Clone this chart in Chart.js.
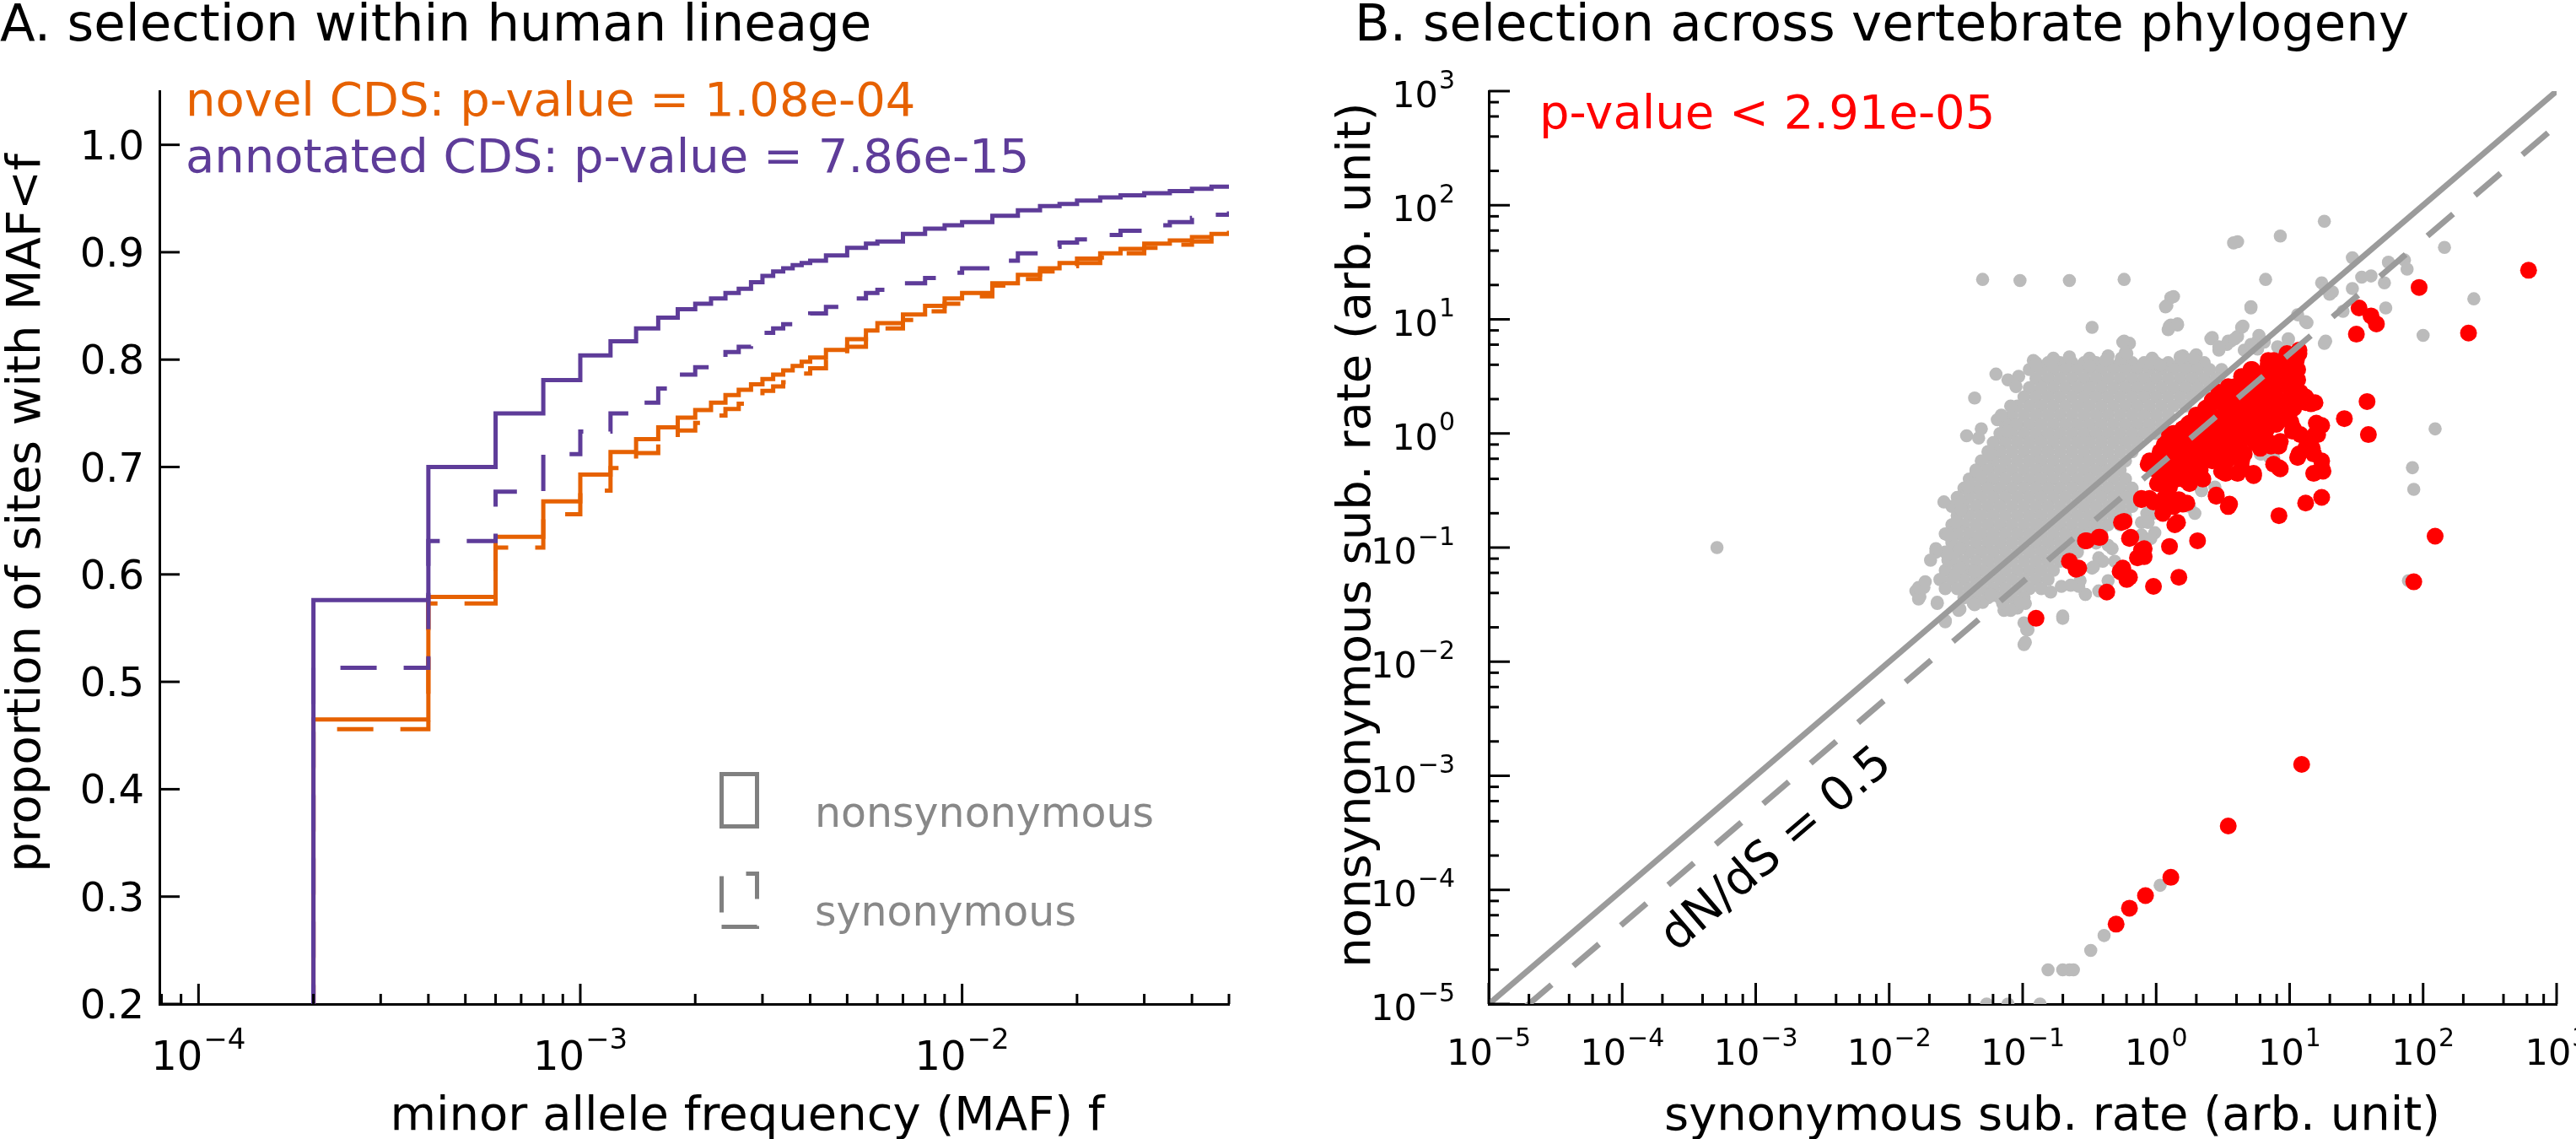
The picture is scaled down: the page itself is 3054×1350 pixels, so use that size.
<!DOCTYPE html>
<html>
<head>
<meta charset="utf-8">
<script src="https://cdn.jsdelivr.net/npm/chart.js"></script>
<style>
html,body{margin:0;padding:0;background:#fff;}
#wrap{position:relative;width:3054px;height:1350px;overflow:hidden;background:#fff;}
canvas{position:absolute;top:0;}
#cL{left:0;}
#cR{left:1527px;}
</style>
</head>
<body>
<div id="wrap"><canvas id="cL" width="1527" height="1350"></canvas><canvas id="cR" width="1527" height="1350"></canvas></div>
<script>
// ---------------- DATA: panel A (cumulative MAF distributions) ----------------
const mafBins = [0.0002,0.0004,0.0006,0.0008,0.001,0.0012,0.0014,0.0016,0.0018,0.002,
  0.0022,0.0024,0.0026,0.0028,0.003,0.0032,0.0034,0.0036,0.0038,0.004,
  0.0044,0.005,0.0056,0.006,0.007,0.008,0.009,0.01,0.012,0.014,
  0.016,0.018,0.02,0.023,0.026,0.03,0.035,0.04,0.045,0.05];
const annotatedNonsyn = [0.576,0.700,0.750,0.781,0.804,0.817,0.829,0.839,0.847,0.852,
  0.857,0.862,0.866,0.872,0.878,0.882,0.885,0.888,0.890,0.892,
  0.897,0.904,0.908,0.910,0.917,0.922,0.925,0.928,0.934,0.939,
  0.943,0.945,0.948,0.951,0.953,0.955,0.957,0.959,0.961,0.963];
const annotatedSyn = [0.513,0.631,0.677,0.712,0.733,0.750,0.760,0.773,0.786,0.793,
  0.800,0.807,0.812,0.818,0.825,0.829,0.833,0.836,0.840,0.843,
  0.849,0.857,0.862,0.865,0.871,0.876,0.881,0.885,0.892,0.899,
  0.905,0.909,0.912,0.916,0.920,0.925,0.928,0.932,0.935,0.938];
const novelNonsyn = [0.465,0.579,0.635,0.668,0.693,0.714,0.726,0.737,0.746,0.753,
  0.760,0.767,0.772,0.777,0.782,0.786,0.790,0.794,0.798,0.802,
  0.809,0.819,0.827,0.834,0.842,0.850,0.857,0.862,0.871,0.879,
  0.885,0.890,0.894,0.899,0.903,0.908,0.911,0.914,0.917,0.920];
const novelSyn = [0.456,0.573,0.625,0.656,0.678,0.699,0.713,0.724,0.734,0.741,
  0.748,0.754,0.759,0.765,0.771,0.775,0.779,0.783,0.787,0.792,
  0.800,0.812,0.821,0.829,0.837,0.845,0.852,0.859,0.869,0.875,
  0.882,0.887,0.890,0.895,0.899,0.904,0.907,0.910,0.914,0.917];
const fracTicks = [0.2,0.3,0.4,0.5,0.6,0.7,0.8,0.9,1.0];
const fracTickLabels = ['0.2','0.3','0.4','0.5','0.6','0.7','0.8','0.9','1.0'];
const mafTickExps = [-4,-3,-2];
const legendLabels = ['nonsynonymous','synonymous'];

// ---------------- DATA: panel B (log10 substitution rates) ----------------
// dense grey cloud, read row by row (log10 dN per row, log10 dS per point)
const cloudRowLogDN = [0.62,0.56,0.48,0.40,0.32,0.24,0.16,0.08,0.00,-0.08,-0.16,-0.24,-0.32,-0.40,-0.48,-0.56,-0.64,-0.72,-0.80,-0.88,-0.96,-1.04,-1.12,-1.20,-1.28,-1.36,-1.44];
const cloudRowLogDS = [
 [-0.90,-0.81,-0.72,-0.63,-0.54,-0.45,-0.36,-0.27,-0.18,-0.09,0.00,0.09,0.18,0.27,0.36],
 [-0.95,-0.86,-0.77,-0.68,-0.59,-0.50,-0.41,-0.32,-0.23,-0.14,-0.05,0.04,0.13,0.22,0.31,0.40,0.49],
 [-0.90,-0.81,-0.72,-0.63,-0.54,-0.45,-0.36,-0.27,-0.18,-0.09,0.00,0.09,0.18,0.27,0.36,0.45],
 [-0.95,-0.86,-0.77,-0.68,-0.59,-0.50,-0.41,-0.32,-0.23,-0.14,-0.05,0.04,0.13,0.22,0.31,0.40],
 [-0.99,-0.90,-0.81,-0.72,-0.63,-0.54,-0.45,-0.36,-0.27,-0.18,-0.09,0.00,0.09,0.18,0.27],
 [-1.04,-0.95,-0.86,-0.77,-0.68,-0.59,-0.50,-0.41,-0.32,-0.23,-0.14,-0.05,0.04,0.13,0.22],
 [-1.08,-0.99,-0.90,-0.81,-0.72,-0.63,-0.54,-0.45,-0.36,-0.27,-0.18,-0.09,0.00,0.09],
 [-1.13,-1.04,-0.95,-0.86,-0.77,-0.68,-0.59,-0.50,-0.41,-0.32,-0.23,-0.14,-0.05,0.04],
 [-1.17,-1.08,-0.99,-0.90,-0.81,-0.72,-0.63,-0.54,-0.45,-0.36,-0.27,-0.18,-0.09,0.00],
 [-1.22,-1.13,-1.04,-0.95,-0.86,-0.77,-0.68,-0.59,-0.50,-0.41,-0.32,-0.23,-0.14],
 [-1.26,-1.17,-1.08,-0.99,-0.90,-0.81,-0.72,-0.63,-0.54,-0.45,-0.36,-0.27,-0.18],
 [-1.31,-1.22,-1.13,-1.04,-0.95,-0.86,-0.77,-0.68,-0.59,-0.50,-0.41,-0.32,-0.23],
 [-1.35,-1.26,-1.17,-1.08,-0.99,-0.90,-0.81,-0.72,-0.63,-0.54,-0.45,-0.36,-0.27],
 [-1.40,-1.31,-1.22,-1.13,-1.04,-0.95,-0.86,-0.77,-0.68,-0.59,-0.50,-0.41,-0.32,-0.23],
 [-1.44,-1.35,-1.26,-1.17,-1.08,-0.99,-0.90,-0.81,-0.72,-0.63,-0.54,-0.45,-0.36,-0.27,-0.18],
 [-1.49,-1.40,-1.31,-1.22,-1.13,-1.04,-0.95,-0.86,-0.77,-0.68,-0.59,-0.50,-0.41,-0.32,-0.23,-0.14],
 [-1.53,-1.44,-1.35,-1.26,-1.17,-1.08,-0.99,-0.90,-0.81,-0.72,-0.63,-0.54,-0.45,-0.36,-0.27,-0.18],
 [-1.49,-1.40,-1.31,-1.22,-1.13,-1.04,-0.95,-0.86,-0.77,-0.68,-0.59,-0.50,-0.41,-0.32,-0.23],
 [-1.53,-1.44,-1.35,-1.26,-1.17,-1.08,-0.99,-0.90,-0.81,-0.72,-0.63,-0.54,-0.45,-0.36,-0.27],
 [-1.58,-1.49,-1.40,-1.31,-1.22,-1.13,-1.04,-0.95,-0.86,-0.77,-0.68,-0.59,-0.50,-0.41],
 [-1.53,-1.44,-1.35,-1.26,-1.17,-1.08,-0.99,-0.90,-0.81,-0.72,-0.63,-0.54,-0.45],
 [-1.58,-1.49,-1.40,-1.31,-1.22,-1.13,-1.04,-0.95,-0.86,-0.77,-0.68,-0.59],
 [-1.53,-1.44,-1.35,-1.26,-1.17,-1.08,-0.99,-0.90,-0.81,-0.72,-0.63],
 [-1.58,-1.49,-1.40,-1.31,-1.22,-1.13,-1.04,-0.95,-0.86,-0.77],
 [-1.62,-1.53,-1.44,-1.35,-1.26,-1.17,-1.08,-0.99,-0.90,-0.81],
 [-1.58,-1.49,-1.40,-1.31,-1.22,-1.13,-1.04,-0.95,-0.86],
 [-1.44,-1.35,-1.26,-1.17,-1.08,-0.99]
];
// scattered grey points [log10 dS, log10 dN]
const grayScatterLog = [
 [-1.30,1.35],[-1.02,1.34],[-0.65,1.34],[-0.24,1.35],[0.82,1.35],
 [0.13,1.20],[0.08,1.12],[0.71,1.11],[-0.48,0.93],[0.10,0.94],[0.16,0.96],[0.65,0.94],
 [1.24,1.32],[1.30,1.22],[1.12,0.98],[1.27,0.81],[0.99,0.83],
 [0.42,0.84],[0.54,0.81],[0.61,0.85],[-0.24,0.81],[-0.20,0.79],[-0.23,0.71],[0.76,0.81],
 [-1.20,0.52],[-1.36,0.31],[-1.42,-0.02],[-1.33,-0.04],[-1.35,-0.33],[-1.19,0.12],[-1.05,0.08],[-1.11,0.02],[-1.24,-0.18],
 [-1.59,-0.60],[-1.46,-0.60],[-1.65,-1.01],[-1.56,-1.11],[-1.80,-1.38],[-1.74,-1.35],[-1.78,-1.45],[-1.64,-1.49],[-1.58,-1.65],
 [-1.48,-1.55],[-1.37,-1.49],[-1.30,-1.48],[-1.22,-1.42],[-1.14,-1.55],[-1.04,-1.49],[-0.98,-1.49],[-0.97,-1.72],[-0.99,-1.85],
 [-0.70,-1.62],[-0.53,-1.41],[-0.43,-1.38],[-0.43,-1.09],[-0.31,-1.12],[-0.36,-0.98],[-0.11,-0.78],[-0.01,-0.87],[-0.07,-0.70],
 [0.34,-0.50],[0.44,-0.47],[0.78,-0.18],[0.85,-0.21],
 [-0.77,0.66],[-0.65,0.67],[-0.50,0.66],[-0.36,0.68],[-0.26,0.66],[-0.03,0.66],[0.20,0.68],[0.30,0.69],[0.47,0.73],[0.56,0.81],[0.66,0.73],[0.77,0.86],[0.71,0.76],
 [-1.03,0.50],[-1.11,0.47],[-1.05,0.41],[-0.92,0.64],[-0.90,0.60],[-1.31,0.04],[-1.16,0.16],[-1.09,0.24],
 [-1.65,-1.04],[-1.56,-0.89],[-1.50,-0.78],[-1.46,-0.67],[-1.41,-0.47],
 [1.26,1.86],[0.93,1.73],[0.58,1.67],[0.61,1.68],[0.11,1.19],[0.07,1.11],[0.71,1.10],[0.11,0.95],[0.16,0.95],[0.09,0.91],[0.64,0.93],
 [1.47,1.54],[1.74,1.50],[1.86,1.52],[1.88,1.44],[2.16,1.63],[1.54,1.37],[1.61,1.38],[1.71,1.32],[1.72,1.10],[1.40,1.07],[1.47,1.27],
 [1.32,1.24],[1.27,1.27],[1.13,0.97],[1.26,0.79],[0.99,0.82],[1.06,1.04],[2.38,1.18],[2.00,0.86],[2.09,0.04],[1.92,-0.30],[1.93,-0.49],
 [0.41,0.83],[0.53,0.78],[0.59,0.83],[-0.25,0.80],[-0.22,0.70],[-0.38,0.64],[-0.48,0.63],[-0.50,0.59],[-0.04,0.61],[0.03,0.60],
 [0.18,0.67],[0.28,0.66],[0.47,0.76],[0.81,0.80],[0.91,0.76],[0.76,0.74],[0.71,0.78],[0.93,0.73],[1.03,0.70],
 [0.88,-0.21],[0.79,-0.18],[0.34,-0.50],[0.25,-0.64],[0.29,-0.70],[-0.02,-0.70],[-0.06,-0.78],[-0.11,-0.89],[-0.04,-0.92],
 [-0.33,-1.01],[-0.40,-1.12],[-0.48,-1.18],[-0.57,-1.29],[-0.36,-1.29],[0.98,0.22],
 [-3.29,-1.00],
 [0.03,-3.96],[-0.39,-4.40],[-0.49,-4.53],[-0.81,-4.70],[-0.70,-4.70],[-0.65,-4.70],[-0.62,-4.70],[-1.27,-5.00],[-1.11,-5.00],[-0.87,-5.00],
 [-0.70,-1.60],[-0.98,-1.83],[-0.96,-1.72],[-0.99,-1.66],[-1.04,-1.53],[-1.02,-1.49],[-1.24,-1.41],[-1.36,-1.50],[-1.47,-1.54],
 [-1.58,-1.64],[-1.64,-1.48],[-1.77,-1.43],[-1.78,-1.35],[-1.73,-1.30],[-1.15,-1.49],[-1.09,-1.55],[-0.53,-1.41],[-0.58,-1.34],
 [-0.79,-1.39],[-0.71,-1.34],[-0.64,-1.33],[-0.47,-1.17],[-1.69,-1.11],[-1.56,-1.06],[-1.47,-1.01],[-1.51,-1.25],[-1.36,-1.21],[-1.47,-1.18],
 [1.89,-1.29]
];
// dense red core, read row by row (log10 dN per row, log10 dS per point)
const redRowLogDN = [0.64,0.56,0.48,0.40,0.32,0.24,0.16,0.08,0.00,-0.08,-0.16,-0.24,-0.32,-0.40];
const redRowLogDS = [
 [0.88,0.99],
 [0.72,0.83,0.94,1.05],
 [0.66,0.77,0.88,0.99],
 [0.56,0.67,0.78,0.89,1.00],
 [0.46,0.57,0.68,0.79,0.90,1.01,1.12],
 [0.40,0.51,0.62,0.73,0.84,0.95],
 [0.30,0.41,0.52,0.63,0.74,0.85,0.96],
 [0.24,0.35,0.46,0.57,0.68,0.79,0.90],
 [0.14,0.25,0.36,0.47,0.58,0.69,0.80],
 [0.08,0.19,0.30,0.41,0.52,0.63,0.74,0.85],
 [0.03,0.14,0.25,0.36,0.47,0.58],
 [-0.02,0.09,0.20,0.31,0.42,0.53,0.64],
 [0.00,0.11,0.22,0.33],
 [0.04,0.15,0.26]
];
// individual red points [log10 dS, log10 dN]
const redLog = [
 [2.79,1.43],[1.97,1.28],[1.52,1.10],[1.61,1.03],[1.65,0.96],[1.50,0.87],[2.34,0.88],[1.58,0.28],[1.41,0.13],[1.59,-0.01],[2.09,-0.90],[1.93,-1.30],
 [0.92,-0.72],[1.12,-0.61],[1.24,-0.56],[1.24,-0.24],[1.24,-0.30],[1.20,0.09],[1.24,0.07],[1.21,-0.01],[1.06,-0.21],[0.92,-0.30],[0.92,-0.11],
 [0.86,-0.11],[0.79,-0.07],[1.08,-0.01],[1.13,-0.06],[1.01,0.10],[1.03,0.04],[1.16,0.26],[1.10,0.29],[1.01,0.30],[1.03,0.39],[1.08,0.36],
 [1.06,0.56],[1.06,0.47],[1.07,0.70],[1.01,0.67],[0.95,0.64],[0.88,0.59],[0.84,0.61],[0.70,0.53],[0.65,0.49],[0.59,0.41],[0.54,0.37],
 [0.47,0.36],[0.42,0.29],[0.37,0.22],[0.33,0.16],[0.25,0.09],[0.20,0.04],[0.13,0.00],[0.11,-0.04],[0.06,-0.10],[-0.06,-0.27],[0.03,-0.35],
 [0.01,-0.44],[0.08,-0.50],[0.06,-0.57],[-0.11,-0.58],[-0.02,-0.60],[0.13,-0.64],[0.20,-0.62],[0.14,-0.80],[0.45,-0.55],[0.54,-0.64],
 [0.31,-0.94],[0.10,-0.99],[-0.26,-0.78],[-0.20,-0.92],[-0.11,-1.04],[-0.14,-1.09],[-0.43,-0.91],[-0.53,-0.94],[-0.60,-1.19],[-0.27,-1.21],
 [-0.22,-1.28],[-0.02,-1.34],[0.17,-1.26],[-0.37,-1.39],[0.25,-0.44],[0.35,-0.40],[0.52,-0.35],[0.64,-0.30],[0.73,-0.35],[0.52,-0.24],
 [0.59,-0.18],[0.41,-0.21],[0.33,-0.24],[0.25,-0.28],[0.42,-0.07],[0.50,-0.01],[0.59,0.02],[0.67,0.07],[0.35,0.10],[0.45,0.13],[0.54,0.19],
 [0.64,0.22],[0.74,0.24],[0.57,0.33],[0.69,0.36],[0.79,0.39],[0.88,0.44],[0.81,0.22],[0.84,0.10],[0.69,0.07],[0.79,0.04],[0.93,0.24],
 [0.98,0.19],[0.25,-0.10],[0.18,-0.16],[0.11,-0.21],[-0.02,-0.27],[0.06,-0.33],[0.84,0.50],[0.93,0.50],[0.98,0.44],[1.03,0.22],[1.13,-0.13],
 [1.18,-0.18],[1.18,-0.35],[1.25,-0.33],
 [-0.90,-1.62],[-0.65,-1.12],[-0.58,-1.18],[-0.52,-0.94],[-0.42,-0.91],[-0.24,-0.77],[-0.19,-0.91],[-0.11,-1.02],[-0.09,-1.08],[-0.25,-1.18],
 [-0.20,-1.26],[0.16,-0.78],[0.05,-0.70],[-0.05,-0.57],[0.23,-0.61],[0.17,-0.58],[-0.11,-0.57],[0.03,-0.61],[0.45,-0.54],[0.55,-0.62],
 [0.10,-0.47],[0.05,-0.38],[0.02,-0.43],[0.00,-0.30],[-0.03,-0.25],[0.13,-0.21],[0.22,-0.41],[0.30,-0.38],[0.49,-0.33],[0.61,-0.35],
 [0.73,-0.37],[0.88,-0.27],[0.93,-0.31],[1.07,-0.18],[1.17,-0.13],[1.22,0.07],[1.19,-0.01],[1.12,0.27],[1.19,0.27],[1.07,0.36],[1.05,0.64],
 [1.07,0.73],[0.98,0.70],[0.84,0.64],[0.93,0.50],[0.71,0.56],[0.64,0.50],[0.54,0.41],[0.49,0.33],[0.42,0.27],[0.68,0.36],[0.78,0.27],
 [0.88,0.33],[1.00,0.24],[0.98,0.16],[0.30,0.10],[0.20,0.04],[0.10,-0.01],[0.42,0.04],[0.54,0.13],[0.64,0.19],[0.78,0.16],[0.83,0.04],
 [0.73,-0.01],[0.54,-0.07],[0.42,-0.13],[0.30,-0.18],[0.66,-0.18],[0.78,-0.13],[0.93,-0.07],[0.17,-0.13],[0.05,-0.16],[-0.05,-0.24],
 [0.25,-0.07],[0.34,-0.01],[1.02,0.02],[1.12,-0.13],
 [1.09,-2.90],[0.54,-3.44],[0.11,-3.89],[-0.08,-4.05],[-0.20,-4.16],[-0.30,-4.30],[-0.09,-1.01],[-0.11,-1.06]
];
const neutralLine = [[1e-5,1e-5],[1e3,1e3]];     // dN/dS = 1
const halfLine = [[1e-5,5e-6],[1e3,500]];        // dN/dS = 0.5
const rateTickExps = [-5,-4,-3,-2,-1,0,1,2,3];

// ---------------- TEXT ----------------
const panelTitles = ['A. selection within human lineage','B. selection across vertebrate phylogeny'];
const novelNote = 'novel CDS: p-value = 1.08e-04';
const annotNote = 'annotated CDS: p-value = 7.86e-15';
const pNote = 'p-value < 2.91e-05';
const ratioNote = 'dN/dS = 0.5';
const yTitleL = 'proportion of sites with MAF<f';
const xTitleL = 'minor allele frequency (MAF) f';
const yTitleR = 'nonsynonymous sub. rate (arb. unit)';
const xTitleR = 'synonymous sub. rate (arb. unit)';

// ---------------- STYLE ----------------
const FONT = '"DejaVu Sans", "Noto Sans", sans-serif';
const PURPLE = '#5e3c99', ORANGE = '#e66101';

function seg(ctx, x1, y1, x2, y2) { ctx.beginPath(); ctx.moveTo(x1, y1); ctx.lineTo(x2, y2); ctx.stroke(); }
function txt(ctx, s, x, y, size, color, align, rot, base) {
  ctx.save(); ctx.translate(x, y); if (rot) ctx.rotate(rot);
  ctx.font = size + 'px ' + FONT; ctx.fillStyle = color; ctx.textAlign = align || 'left';
  ctx.textBaseline = base || 'alphabetic'; ctx.fillText(s, 0, 0); ctx.restore();
}
function powLabel(ctx, exp, cx, baseline, size, align) {
  const b = '10', e = exp < 0 ? '\u2212' + (-exp) : String(exp);
  const es = Math.round(size * 0.7);
  ctx.textAlign = 'left'; ctx.textBaseline = 'alphabetic'; ctx.fillStyle = '#000';
  ctx.font = size + 'px ' + FONT; const wb = ctx.measureText(b).width;
  ctx.font = es + 'px ' + FONT; const we = ctx.measureText(e).width;
  const w = wb + we + 1;
  const x0 = align === 'right' ? cx - w : cx - w / 2;
  ctx.font = size + 'px ' + FONT; ctx.fillText(b, x0, baseline);
  ctx.font = es + 'px ' + FONT; ctx.fillText(e, x0 + wb + 1, baseline - size * 0.52);
}

// ---------------- PANEL A ----------------
function stepSeries(values, color, dash, dashOff, order) {
  const pts = [{x: mafBins[0], y: 0}].concat(mafBins.map((m, i) => ({x: m, y: values[i]})));
  return { data: pts, borderColor: color, borderWidth: 5, borderDash: dash, borderDashOffset: dashOff,
    stepped: 'before', pointRadius: 0, fill: false, tension: 0, order: order };
}
const leftDecor = {
  id: 'leftDecor',
  afterDraw(chart) {
    const {ctx, chartArea: a, scales: {x, y}} = chart;
    ctx.save();
    ctx.strokeStyle = '#000'; ctx.lineWidth = 3; ctx.setLineDash([]);
    fracTicks.forEach(v => { const py = y.getPixelForValue(v); seg(ctx, a.left, py, a.left + 24, py); });
    for (let e = -5; e <= -1; e++) for (let m = 1; m <= 9; m++) {
      const v = m * Math.pow(10, e);
      if (v < x.min * 1.0001 || v > x.max * 1.0001) continue;
      const px = x.getPixelForValue(v);
      seg(ctx, px, a.bottom, px, a.bottom - (m === 1 ? 24 : 12));
    }
    ctx.fillStyle = '#000'; ctx.font = '48px ' + FONT; ctx.textAlign = 'right'; ctx.textBaseline = 'alphabetic';
    fracTicks.forEach((v, i) => ctx.fillText(fracTickLabels[i], a.left - 18, y.getPixelForValue(v) + 17));
    mafTickExps.forEach(e => powLabel(ctx, e, x.getPixelForValue(Math.pow(10, e)), 1268, 48, 'center'));
    txt(ctx, panelTitles[0], 0, 48, 61, '#000');
    txt(ctx, novelNote, 220, 137, 56, ORANGE);
    txt(ctx, annotNote, 220, 204, 56, PURPLE);
    txt(ctx, yTitleL, 47, 608, 56, '#000', 'center', -Math.PI / 2);
    txt(ctx, xTitleL, 886, 1339, 56, '#000', 'center');
    // legend
    ctx.strokeStyle = '#808080'; ctx.lineWidth = 5; ctx.lineJoin = 'miter';
    ctx.strokeRect(855.5, 917.5, 42, 62);
    ctx.setLineDash([43, 32]);
    ctx.beginPath(); ctx.moveTo(855.5, 1098.5); ctx.lineTo(897.5, 1098.5); ctx.lineTo(897.5, 1035.5);
    ctx.lineTo(855.5, 1035.5); ctx.closePath(); ctx.stroke(); ctx.setLineDash([]);
    txt(ctx, legendLabels[0], 966, 980, 49, '#888888');
    txt(ctx, legendLabels[1], 966, 1097, 49, '#888888');
    ctx.restore();
  }
};
new Chart(document.getElementById('cL'), {
  type: 'line',
  data: { datasets: [
    stepSeries(annotatedSyn, PURPLE, [43, 32], 65, 0),
    stepSeries(annotatedNonsyn, PURPLE, [], 0, 1),
    stepSeries(novelSyn, ORANGE, [43, 32], 66.5, 2),
    stepSeries(novelNonsyn, ORANGE, [], 0, 3)
  ]},
  options: {
    responsive: false, animation: false, devicePixelRatio: 1, events: [],
    layout: { padding: {left: 0, top: 108, right: 70, bottom: 0}, autoPadding: false },
    plugins: { legend: {display: false}, tooltip: {enabled: false}, title: {display: false} },
    scales: {
      x: { type: 'logarithmic', min: 7.9e-5, max: 0.05,
        grid: {display: false, drawTicks: false}, border: {display: true, color: '#000', width: 3},
        ticks: {display: false}, afterFit(s) { s.height = 160; } },
      y: { type: 'linear', min: 0.2, max: 1.05,
        grid: {display: false, drawTicks: false}, border: {display: true, color: '#000', width: 3},
        ticks: {display: false}, afterFit(s) { s.width = 189; } }
    }
  },
  plugins: [leftDecor]
});

// ---------------- PANEL B ----------------
const toPt = (lx, ly) => ({x: Math.pow(10, lx), y: Math.pow(10, ly)});
const grayPts = [];
cloudRowLogDN.forEach((ly, i) => cloudRowLogDS[i].forEach(lx => grayPts.push(toPt(lx, ly))));
grayScatterLog.forEach(p => grayPts.push(toPt(p[0], p[1])));
const redPts = [];
redRowLogDN.forEach((ly, i) => redRowLogDS[i].forEach(lx => redPts.push(toPt(lx, ly))));
redLog.forEach(p => redPts.push(toPt(p[0], p[1])));

const rightDecor = {
  id: 'rightDecor',
  afterDraw(chart) {
    const {ctx, chartArea: a, scales: {x, y}} = chart;
    ctx.save();
    ctx.strokeStyle = '#000'; ctx.lineWidth = 3; ctx.setLineDash([]);
    for (let e = -5; e <= 3; e++) for (const m of [1, 2, 4, 6, 8]) {
      if (e === 3 && m > 1) continue;
      const v = m * Math.pow(10, e), len = m === 1 ? 25 : 12;
      const px = x.getPixelForValue(v); seg(ctx, px, a.bottom, px, a.bottom - len);
      const py = y.getPixelForValue(v); seg(ctx, a.left, py, a.left + len, py);
    }
    rateTickExps.forEach(e => {
      powLabel(ctx, e, x.getPixelForValue(Math.pow(10, e)), 1262, 43, 'center');
      powLabel(ctx, e, 198, y.getPixelForValue(Math.pow(10, e)) + 19, 43, 'right');
    });
    txt(ctx, panelTitles[1], 79, 48, 61, '#000');
    txt(ctx, pNote, 298, 152, 56, '#ff0000');
    const ang = Math.atan2(y.getPixelForValue(1e-5) - y.getPixelForValue(1e3), x.getPixelForValue(1e3) - x.getPixelForValue(1e-5));
    txt(ctx, ratioNote, 580, 1008, 56, '#000', 'center', -ang, 'middle');
    txt(ctx, yTitleR, 97, 634, 56, '#000', 'center', -Math.PI / 2);
    txt(ctx, xTitleR, 906, 1339, 56, '#000', 'center');
    ctx.restore();
  }
};
new Chart(document.getElementById('cR'), {
  type: 'scatter',
  data: { datasets: [
    { data: neutralLine.map(p => ({x: p[0], y: p[1]})), showLine: true, borderColor: '#9b9b9b', borderWidth: 7,
      pointRadius: 0, fill: false, clip: 0, order: 0 },
    { data: halfLine.map(p => ({x: p[0], y: p[1]})), showLine: true, borderColor: '#9b9b9b', borderWidth: 7,
      borderDash: [40, 34], borderDashOffset: 16, pointRadius: 0, fill: false, clip: 0, order: 1 },
    { data: redPts, pointBackgroundColor: '#ff0000', backgroundColor: '#ff0000', pointBorderWidth: 0, borderWidth: 0,
      pointRadius: 10, clip: 0, order: 2 },
    { data: grayPts, pointBackgroundColor: '#bbbbbb', backgroundColor: '#bbbbbb', pointBorderWidth: 0, borderWidth: 0,
      pointRadius: 7.8, clip: 0, order: 3 }
  ]},
  options: {
    responsive: false, animation: false, devicePixelRatio: 1, events: [],
    layout: { padding: {left: 0, top: 108, right: 23, bottom: 0}, autoPadding: false },
    plugins: { legend: {display: false}, tooltip: {enabled: false}, title: {display: false} },
    scales: {
      x: { type: 'logarithmic', min: 1e-5, max: 1e3,
        grid: {display: false, drawTicks: false}, border: {display: true, color: '#000', width: 3},
        ticks: {display: false}, afterFit(s) { s.height = 160; } },
      y: { type: 'logarithmic', min: 1e-5, max: 1e3,
        grid: {display: false, drawTicks: false}, border: {display: true, color: '#000', width: 3},
        ticks: {display: false}, afterFit(s) { s.width = 238; } }
    }
  },
  plugins: [rightDecor]
});
</script>
</body>
</html>
